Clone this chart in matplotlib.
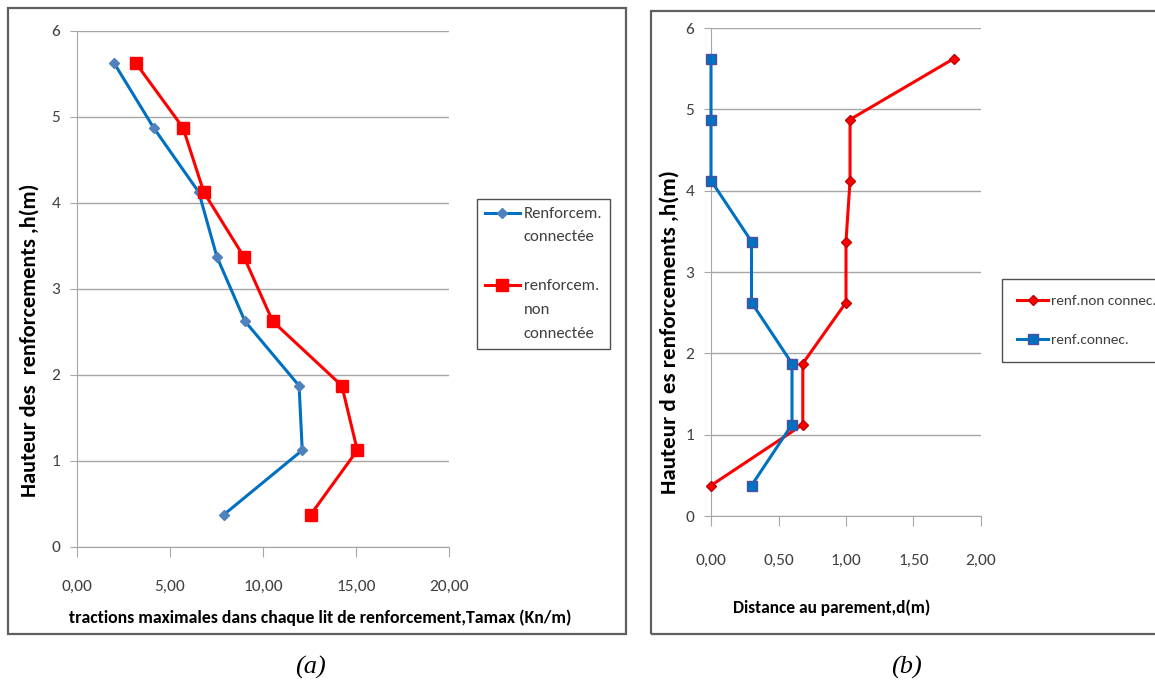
"""
Two panels: max traction and face distance vs reinforcement height
"""

import numpy as np
import matplotlib.pyplot as plt
from matplotlib.patches import Rectangle
from matplotlib.ticker import FuncFormatter
from matplotlib.legend_handler import HandlerLine2D

plt.rcParams['font.family'] = ['Carlito', 'DejaVu Sans']

# heights of the reinforcement layers (m)
heights = [5.625, 4.875, 4.125, 3.375, 2.625, 1.875, 1.125, 0.375]

# (a) max traction per layer, Tamax (kN/m)
tmax_connected = [2.0, 4.12, 6.55, 7.52, 9.03, 11.94, 12.11, 7.89]
tmax_not_connected = [3.17, 5.70, 6.82, 8.97, 10.52, 14.24, 15.07, 12.56]

# (b) distance to facing, d (m)
dist_not_connected = [1.80, 1.03, 1.03, 1.00, 1.00, 0.68, 0.68, 0.0]
dist_connected = [0.0, 0.0, 0.0, 0.30, 0.30, 0.60, 0.60, 0.30]

BLUE = '#0070C0'
RED = '#FF0000'
GRID = '#A6A6A6'
TXT = '#404040'
W, H = 1155, 686

comma = FuncFormatter(lambda v, p: f'{v:.2f}'.replace('.', ','))


class FirstLineHandler(HandlerLine2D):
    """legend handle drawn level with the first line of a multi-line label"""
    def __init__(self, shift, **kw):
        super().__init__(**kw)
        self.shift = shift

    def create_artists(self, legend, orig_handle, xdescent, ydescent,
                       width, height, fontsize, trans):
        return super().create_artists(legend, orig_handle, xdescent,
                                      ydescent - 2 * self.shift * fontsize,
                                      width, height, fontsize, trans)


fig = plt.figure(figsize=(W / 100, H / 100), dpi=100)

# panel frames
for x0, y0, x1, y1 in [(8, 8, 626, 634), (651, 11, 1160, 634)]:
    fig.patches.append(Rectangle((x0 / W, 1 - y1 / H), (x1 - x0) / W,
                                 (y1 - y0) / H, transform=fig.transFigure,
                                 fill=False, ec='#606060', lw=1.6))


def style_axes(ax, xmax, xstep, xpad):
    ax.set_xlim(0, xmax)
    ax.set_ylim(0, 6)
    ax.set_xticks(np.arange(5) * xstep)
    ax.set_yticks(range(7))
    ax.xaxis.set_major_formatter(comma)
    ax.grid(axis='y', color=GRID, lw=1)
    ax.set_axisbelow(True)
    for s in ['top', 'right']:
        ax.spines[s].set_visible(False)
    for s in ['left', 'bottom']:
        ax.spines[s].set_color(GRID)
    ax.tick_params(axis='x', colors=GRID, labelcolor=TXT, labelsize=12.5,
                   length=7, pad=xpad)
    ax.tick_params(axis='y', colors=GRID, labelcolor=TXT, labelsize=12.5,
                   length=5, pad=7)


# (a)
ax1 = fig.add_axes([77 / W, 1 - 547 / H, 372 / W, 516 / H])
style_axes(ax1, 20, 5, 17)
ax1.plot(tmax_connected, heights, color=BLUE, lw=2.2, marker='D', ms=5,
         mfc='#4F81BD', mec='#4F81BD', label='Renforcem.\nconnectée')
ax1.plot(tmax_not_connected, heights, color=RED, lw=2.2, marker='s', ms=8,
         mfc=RED, mec=RED, label='renforcem.\nnon\nconnectée')
ax1.text((320 - 77) / 372, (547 - 618) / 516,
         'tractions maximales dans chaque lit de renforcement,Tamax (Kn/m)',
         transform=ax1.transAxes, ha='center', va='center', fontsize=12.8,
         fontweight='bold')
ax1.text((30 - 77) / 372, (547 - 340) / 516, 'Hauteur des  renforcements ,h(m)',
         transform=ax1.transAxes, ha='center', va='center', rotation=90,
         fontsize=16, fontweight='bold')
lines1 = ax1.get_lines()
leg1 = ax1.legend(loc='upper left', bbox_to_anchor=(477 / W, 1 - 199 / H),
                  bbox_transform=fig.transFigure, fancybox=False,
                  edgecolor='#505050', fontsize=12, handlelength=2.1,
                  handletextpad=0.25, labelspacing=2.1, borderpad=0.45,
                  borderaxespad=0, framealpha=1,
                  handler_map={lines1[0]: FirstLineHandler(0.75),
                               lines1[1]: FirstLineHandler(1.5)})
for t in leg1.get_texts():
    t.set_linespacing(1.9)
    t.set_color(TXT)

# (b)
ax2 = fig.add_axes([711 / W, 1 - 516 / H, 270 / W, 488 / H])
style_axes(ax2, 2, 0.5, 20)
ax2.plot(dist_not_connected, heights, color=RED, lw=2.2, marker='D', ms=5,
         mfc=RED, mec='#C00000', label='renf.non connec.', clip_on=False,
         zorder=3)
ax2.plot(dist_connected, heights, color=BLUE, lw=2.2, marker='s', ms=7,
         mfc=BLUE, mec='#4F4F9F', label='renf.connec.', clip_on=False,
         zorder=3)
ax2.text((832 - 711) / 270, (516 - 608) / 488, 'Distance au parement,d(m)',
         transform=ax2.transAxes, ha='center', va='center', fontsize=12.5,
         fontweight='bold')
ax2.text((670 - 711) / 270, (516 - 332) / 488,
         'Hauteur d es renforcements ,h(m)',
         transform=ax2.transAxes, ha='center', va='center', rotation=90,
         fontsize=16.5, fontweight='bold')
leg2 = ax2.legend(loc='upper left', bbox_to_anchor=(1002 / W, 1 - 279 / H),
                  bbox_transform=fig.transFigure, fancybox=False,
                  edgecolor='#505050', fontsize=11, handlelength=2.0,
                  handletextpad=0.2, labelspacing=1.75, borderpad=1.0,
                  borderaxespad=0, framealpha=1)
for t in leg2.get_texts():
    t.set_color(TXT)

# captions
for x, t in [(310, '(a)'), (906, '(b)')]:
    fig.text(x / W, 1 - 667 / H, t, ha='center', va='center',
             fontsize=19, style='italic', family='Liberation Serif')

fig.savefig('out.png', dpi=100)
